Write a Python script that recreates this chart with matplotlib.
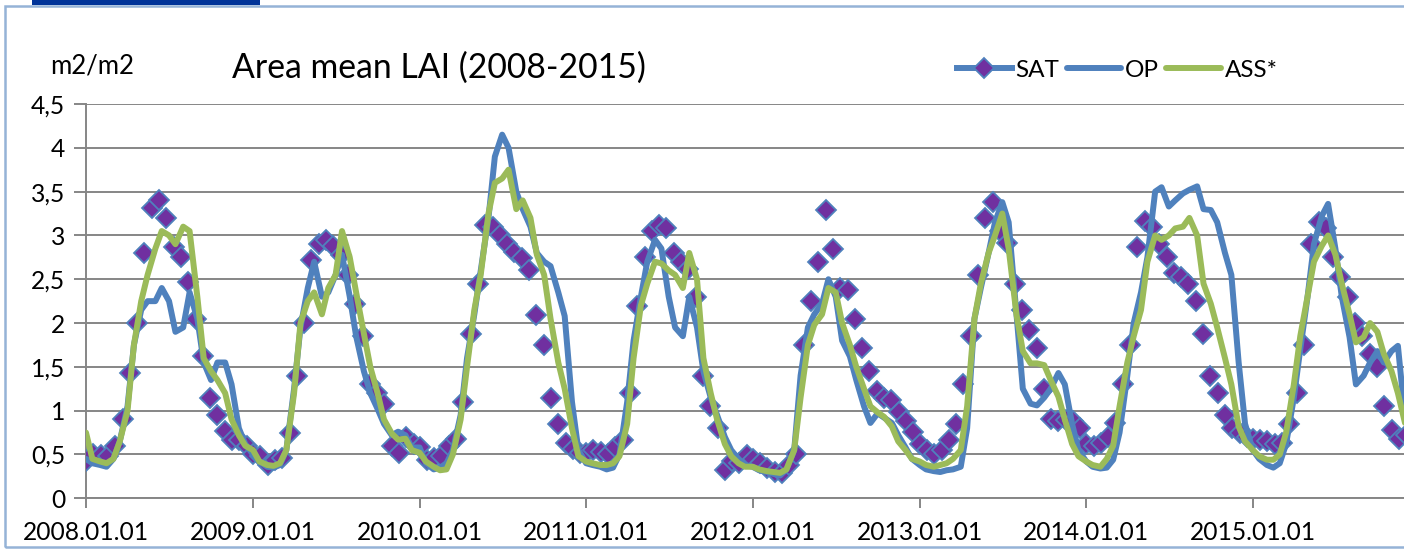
import numpy as np
import pandas as pd
import matplotlib
matplotlib.use('Agg')
import matplotlib.pyplot as plt
import matplotlib.dates as mdates
from matplotlib.lines import Line2D
from matplotlib.patches import Rectangle

plt.rcParams['font.family'] = ['Lato', 'DejaVu Sans']

years = list(range(2008, 2016))

# SAT: 16-day satellite LAI (23 samples per year)
sat_lai = [
    0.42, 0.50, 0.49, 0.48, 0.60, 0.90, 1.43, 2.00, 2.80, 3.31, 3.40, 3.20, 2.87, 2.75, 2.47, 2.05, 1.62, 1.15, 0.95, 0.77, 0.67, 0.66, 0.60,
    0.50, 0.48, 0.38, 0.44, 0.46, 0.75, 1.40, 2.00, 2.72, 2.90, 2.95, 2.88, 2.78, 2.55, 2.22, 1.85, 1.30, 1.20, 1.08, 0.60, 0.52, 0.70, 0.62,
    0.58, 0.44, 0.46, 0.48, 0.60, 0.68, 1.10, 1.88, 2.45, 3.12, 3.10, 3.00, 2.90, 2.81, 2.74, 2.60, 2.09, 1.75, 1.15, 0.85, 0.63, 0.56, 0.52,
    0.52, 0.55, 0.53, 0.51, 0.58, 0.67, 1.20, 2.20, 2.75, 3.05, 3.12, 3.08, 2.80, 2.70, 2.62, 2.30, 1.40, 1.05, 0.80, 0.32, 0.42, 0.40, 0.49,
    0.45, 0.40, 0.35, 0.30, 0.29, 0.38, 0.50, 1.75, 2.25, 2.70, 3.29, 2.85, 2.40, 2.38, 2.05, 1.72, 1.45, 1.22, 1.14, 1.12, 0.98, 0.88, 0.76,
    0.62, 0.55, 0.51, 0.55, 0.67, 0.85, 1.30, 1.85, 2.55, 3.20, 3.38, 3.05, 2.91, 2.45, 2.15, 1.92, 1.72, 1.25, 0.90, 0.88, 0.89, 0.88, 0.80,
    0.62, 0.60, 0.63, 0.70, 0.86, 1.30, 1.75, 2.87, 3.16, 3.10, 2.90, 2.75, 2.57, 2.52, 2.45, 2.25, 1.88, 1.40, 1.20, 0.95, 0.80, 0.74, 0.70,
    0.68, 0.67, 0.65, 0.62, 0.63, 0.85, 1.20, 1.75, 2.90, 3.15, 3.08, 2.75, 2.53, 2.30, 2.00, 1.85, 1.65, 1.50, 1.05, 0.78, 0.68, 0.72,
]

# OP: open-loop model LAI (semi-monthly samples)
op_lai = [
    0.45, 0.40, 0.38, 0.36, 0.45, 0.65, 1.05, 1.75, 2.15, 2.25, 2.25, 2.40, 2.25, 1.90, 1.95, 2.35, 2.05, 1.55, 1.35, 1.55, 1.55, 1.30, 0.80, 0.62,
    0.50, 0.42, 0.36, 0.35, 0.38, 0.55, 1.25, 1.95, 2.40, 2.70, 2.30, 2.35, 2.55, 2.78, 2.30, 1.85, 1.45, 1.20, 1.02, 0.85, 0.72, 0.76, 0.72, 0.58,
    0.58, 0.40, 0.33, 0.35, 0.40, 0.55, 0.95, 1.60, 2.10, 2.60, 3.20, 3.90, 4.15, 4.00, 3.50, 3.30, 3.10, 2.80, 2.70, 2.65, 2.35, 2.08, 1.10, 0.55,
    0.40, 0.38, 0.36, 0.33, 0.35, 0.50, 1.10, 1.80, 2.30, 2.70, 2.95, 2.85, 2.30, 1.95, 1.85, 2.30, 1.95, 1.45, 1.15, 0.95, 0.70, 0.55, 0.45, 0.38,
    0.36, 0.32, 0.30, 0.28, 0.26, 0.33, 0.55, 1.40, 1.95, 2.10, 2.22, 2.50, 2.30, 1.80, 1.62, 1.35, 1.05, 0.86, 0.97, 0.92, 0.86, 0.72, 0.58, 0.45,
    0.38, 0.33, 0.31, 0.30, 0.32, 0.33, 0.36, 0.80, 2.05, 2.40, 2.80, 3.15, 3.38, 3.15, 2.10, 1.25, 1.08, 1.06, 1.15, 1.25, 1.43, 1.30, 0.85, 0.55,
    0.42, 0.36, 0.34, 0.35, 0.44, 0.75, 1.40, 2.00, 2.35, 2.75, 3.50, 3.55, 3.33, 3.40, 3.48, 3.52, 3.56, 3.30, 3.29, 3.15, 2.80, 2.55, 1.55, 0.85,
    0.55, 0.45, 0.38, 0.35, 0.40, 0.62, 1.15, 1.70, 2.30, 2.90, 3.22, 3.36, 2.85, 2.30, 1.84, 1.30, 1.40, 1.55, 1.68, 1.55, 1.68, 1.74, 0.90,
]

# ASS*: assimilation run LAI (semi-monthly samples)
ass_lai = [
    0.75, 0.45, 0.42, 0.40, 0.45, 0.65, 1.00, 1.75, 2.25, 2.55, 2.85, 3.05, 3.00, 2.90, 3.10, 3.05, 2.30, 1.60, 1.45, 1.35, 1.20, 0.90, 0.72, 0.60,
    0.55, 0.42, 0.38, 0.37, 0.40, 0.55, 1.20, 2.00, 2.25, 2.35, 2.10, 2.40, 2.55, 3.05, 2.75, 2.35, 1.88, 1.50, 1.20, 0.90, 0.74, 0.67, 0.68, 0.55,
    0.52, 0.42, 0.36, 0.32, 0.33, 0.50, 0.90, 1.50, 2.15, 2.55, 3.25, 3.60, 3.65, 3.75, 3.30, 3.40, 3.20, 2.78, 2.55, 2.05, 1.55, 1.25, 0.80, 0.48,
    0.42, 0.40, 0.38, 0.38, 0.40, 0.48, 0.85, 1.60, 2.20, 2.45, 2.70, 2.68, 2.60, 2.55, 2.40, 2.80, 2.50, 1.60, 1.20, 0.90, 0.62, 0.48, 0.40, 0.36,
    0.36, 0.33, 0.31, 0.30, 0.29, 0.33, 0.55, 1.15, 1.75, 1.98, 2.10, 2.40, 2.35, 2.00, 1.75, 1.50, 1.25, 1.05, 0.98, 0.93, 0.82, 0.65, 0.55, 0.45,
    0.42, 0.38, 0.36, 0.38, 0.40, 0.45, 0.55, 1.05, 2.05, 2.45, 2.80, 3.00, 3.25, 2.85, 2.10, 1.68, 1.54, 1.54, 1.52, 1.35, 1.16, 0.90, 0.62, 0.48,
    0.42, 0.38, 0.36, 0.45, 0.60, 1.05, 1.55, 1.85, 2.15, 2.70, 3.00, 2.95, 3.00, 3.08, 3.10, 3.20, 3.00, 2.45, 2.22, 1.95, 1.60, 1.30, 0.82, 0.65,
    0.55, 0.48, 0.44, 0.44, 0.50, 0.75, 1.30, 1.85, 2.30, 2.70, 2.88, 3.00, 2.78, 2.45, 2.10, 1.78, 1.84, 2.00, 1.90, 1.65, 1.45, 1.20, 0.85,
]

series_names = ['SAT', 'OP', 'ASS*']
x_tick_labels = ['2008.01.01', '2009.01.01', '2010.01.01', '2011.01.01',
                 '2012.01.01', '2013.01.01', '2014.01.01', '2015.01.01']
y_ticks = [0, 0.5, 1, 1.5, 2, 2.5, 3, 3.5, 4, 4.5]
y_tick_labels = ['0', '0,5', '1', '1,5', '2', '2,5', '3', '3,5', '4', '4,5']
title_text = 'Area mean LAI (2008-2015)'
unit_text = 'm2/m2'

# dates
sat_dates = [pd.Timestamp(y, 1, 1) + pd.Timedelta(days=16 * k) for y in years for k in range(23)][:len(sat_lai)]
line_dates = pd.date_range('2008-01-01', periods=len(op_lai), freq='SMS')
tick_dates = [pd.Timestamp(y, 1, 1) for y in years]

BLUE = '#4f81bd'
GREEN = '#9bbb59'
PURPLE = '#7030a0'
GRID = '#868686'

W, H = 1404, 549
fig = plt.figure(figsize=(W / 100, H / 100), dpi=100)
ax = fig.add_axes([86 / W, 1 - 498.3 / H, 1 - 86 / W, (498.3 - 104) / H])

ax.plot(sat_dates, sat_lai, linestyle='none', marker='D', markersize=10.5,
        markerfacecolor=PURPLE, markeredgecolor=BLUE, markeredgewidth=1.3, zorder=3)
ax.plot(line_dates, op_lai, color=BLUE, lw=4.3, solid_joinstyle='round', solid_capstyle='round', zorder=4)
ax.plot(line_dates, ass_lai, color=GREEN, lw=4.3, solid_joinstyle='round', solid_capstyle='round', zorder=5)

x0 = mdates.date2num(pd.Timestamp('2008-01-01'))
ax.set_xlim(x0, x0 + (1404 - 86) / 166.67 * 365.25)
ax.set_ylim(0, 4.5)

ax.set_xticks(tick_dates)
ax.set_xticklabels(x_tick_labels)
ax.set_yticks(y_ticks)
ax.set_yticklabels(y_tick_labels)

ax.yaxis.grid(True, color=GRID, lw=1.4)
ax.set_axisbelow(True)
for s in ['top', 'right']:
    ax.spines[s].set_visible(False)
for s in ['left', 'bottom']:
    ax.spines[s].set_color(GRID)
    ax.spines[s].set_linewidth(1.4)
ax.tick_params(axis='y', length=9, width=1.4, color=GRID, labelsize=17.7, pad=6)
ax.tick_params(axis='x', length=7, width=1.4, color=GRID, labelsize=17.7, pad=9)

# title and unit label
fig.text(232 / W, 1 - 68 / H, title_text, fontsize=24.3, ha='left', va='center')
fig.text(50 / W, 1 - 66 / H, unit_text, fontsize=18.5, ha='left', va='center')

# legend
handles = [
    Line2D([], [], color=BLUE, lw=4.3, marker='D', markersize=10.5,
           markerfacecolor=PURPLE, markeredgecolor=BLUE, markeredgewidth=1.3),
    Line2D([], [], color=BLUE, lw=4.3, solid_capstyle='round'),
    Line2D([], [], color=GREEN, lw=4.3, solid_capstyle='round'),
]
fig.legend(handles, series_names, loc='center left', bbox_to_anchor=(957 / W, 1 - 70 / H),
           ncol=3, frameon=False, fontsize=17.5, handlelength=2.25, handletextpad=0.15,
           columnspacing=0.3, borderaxespad=0, borderpad=0)

# chart frame and top bar of the screenshot
fig.add_artist(Rectangle((5 / W, 1 - 547 / H), 1.2, (547 - 6) / H, fill=False,
                         ec='#95b3d7', lw=1.8, transform=fig.transFigure))
fig.add_artist(Rectangle((32 / W, 1 - 5 / H), (260 - 32) / W, 6 / H, fc='#003399',
                         ec='none', transform=fig.transFigure))

fig.savefig('out.png', dpi=100)
